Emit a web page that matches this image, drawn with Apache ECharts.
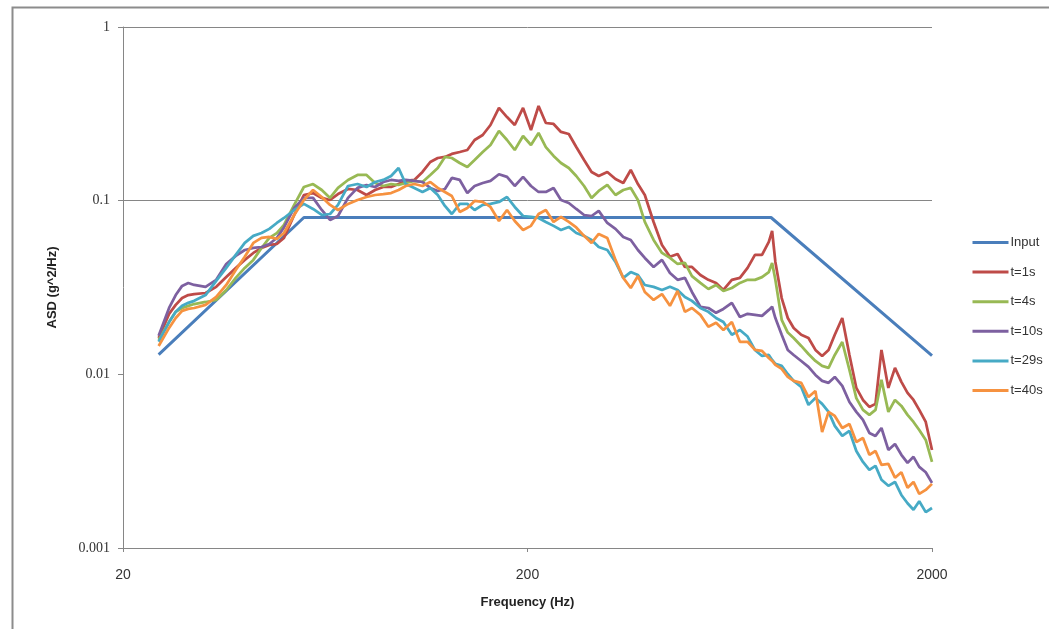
<!DOCTYPE html>
<html>
<head>
<meta charset="utf-8">
<script src="https://cdn.jsdelivr.net/npm/echarts@6/dist/echarts.min.js"></script>
<style>
html,body{margin:0;padding:0;background:#fff;}
#chart{width:1049px;height:629px;}
</style>
</head>
<body>
<div id="chart"></div>
<script>
// Frequencies (Hz) shared by the measured series
const freqs = [24.5,26,27,28,29,30,32,34,36,38,40,42,44,46,48,50,53,56,59,62,65,68,72,76,80,84,88,92,96,100,105,110,115,120,125,130,136,142,148,155,162,170,178,186,195,204,213,222,232,242,253,264,276,288,300,315,330,345,360,375,390,410,430,450,470,490,510,535,560,585,610,640,670,700,730,760,790,805,820,850,880,910,950,990,1030,1070,1110,1150,1200,1250,1300,1350,1400,1450,1500,1560,1620,1680,1740,1800,1860,1930,2000];

// Input profile (breakpoints)
const inputFreq = [24.5, 56, 800, 2000];
const inputASD  = [0.013, 0.08, 0.08, 0.0128];

const t1s = [.0162,.0223,.0251,.0275,.0286,.0290,.0294,.0319,.0363,.0410,.0456,.0500,.0534,.0556,.0563,.0610,.0827,.1078,.1106,.1037,.1009,.1092,.1168,.1152,.1078,.1152,.1199,.1199,.1247,.1299,.1316,.1463,.1670,.1761,.1785,.1858,.1907,.1957,.2236,.2388,.2727,.342,.303,.2727,.342,.2553,.351,.2800,.2764,.2487,.2420,.2036,.1715,.1463,.1387,.1463,.1333,.1264,.1502,.1247,.1078,.0754,.0556,.0475,.0493,.0415,.0415,.0373,.0350,.0336,.0306,.0350,.0359,.0410,.0487,.0487,.0579,.0669,.0444,.0275,.0211,.0185,.0169,.0162,.01382,.01276,.01382,.0169,.0211,.01293,.00835,.00712,.00649,.00676,.01382,.00835,.01090,.00905,.00782,.00712,.00624,.00532,.00367];

const t4s = [.0158,.0200,.0229,.0241,.0248,.0254,.0261,.0268,.0306,.0359,.0410,.0456,.0534,.0610,.0651,.0725,.0945,.1199,.1247,.1152,.1037,.1184,.1316,.1406,.1406,.1264,.1215,.1247,.1231,.1264,.1299,.1281,.1406,.1542,.1785,.1761,.1648,.1563,.1715,.1907,.2092,.2520,.2236,.1957,.2357,.2092,.2453,.2036,.1809,.1648,.1542,.1387,.1215,.1037,.1137,.1231,.1078,.1152,.1184,.1009,.0754,.0594,.0500,.0468,.0432,.0438,.0368,.0336,.0310,.0327,.0302,.0314,.0336,.0350,.0350,.0363,.0388,.0438,.0350,.0206,.0174,.0162,.01457,.01310,.01194,.01118,.01090,.01293,.01535,.0106,.00730,.00624,.00584,.00624,.00929,.00608,.00712,.00658,.00584,.00532,.00478,.00419,.00313];

const t10s = [.0167,.0241,.0286,.0323,.0336,.0327,.0319,.0350,.0432,.0481,.0520,.0534,.0541,.0563,.0610,.0701,.0908,.1037,.1037,.0884,.0774,.0816,.1037,.1184,.1231,.1199,.1281,.1316,.1299,.1316,.1299,.1281,.1184,.1137,.1168,.1352,.1316,.1106,.1215,.1264,.1299,.142,.1370,.1215,.1370,.1215,.1122,.1122,.1184,.1009,.0970,.0896,.0827,.0816,.0873,.0744,.0688,.0618,.0594,.0520,.0468,.0415,.0456,.0383,.0350,.0359,.0298,.0245,.0241,.0226,.0238,.0258,.0214,.0223,.0220,.0217,.0235,.0245,.0211,.0169,.01382,.01293,.01194,.01104,.00992,.00917,.00893,.00966,.00858,.00693,.00608,.00546,.00460,.00442,.00491,.00367,.00397,.00344,.00309,.00335,.00293,.00273,.00237];

const t29s = [.0154,.0200,.0229,.0248,.0258,.0265,.0286,.0345,.0410,.0487,.0571,.0627,.0651,.0688,.0744,.0795,.0884,.0958,.0896,.0827,.0838,.0945,.1215,.1247,.1199,.1281,.1316,.1387,.1542,.1247,.1184,.1122,.1184,.1078,.0933,.0838,.0958,.0958,.0884,.0945,.0958,.0983,.1050,.0920,.0816,.0806,.0795,.0754,.0716,.0678,.0706,.0651,.0627,.0594,.0541,.0520,.0444,.0359,.0388,.0373,.0327,.0319,.0306,.0319,.0306,.0279,.0265,.0241,.0229,.0211,.0200,.0169,.0180,.0165,.01382,.01276,.01293,.0121,.01148,.01118,.01005,.00917,.00846,.00667,.00730,.00676,.00608,.00505,.00442,.00472,.00362,.00313,.00282,.00297,.00247,.00228,.00240,.00202,.00181,.00166,.00186,.00161,.00170];

const t40s = [.01457,.0185,.0211,.0232,.0238,.0241,.0251,.0279,.0327,.0399,.0475,.0571,.0610,.0618,.0602,.0651,.0827,.1009,.1152,.1050,.0945,.0884,.0958,.1009,.1050,.1078,.1092,.1106,.1152,.1215,.1247,.1215,.1281,.1184,.1122,.1064,.0861,.0908,.0996,.0983,.0920,.0764,.0884,.0764,.0678,.0716,.0838,.0884,.0754,.0806,.0754,.0701,.0627,.0571,.0643,.0610,.0456,.0359,.0314,.0368,.0298,.0268,.0290,.0248,.0302,.0229,.0241,.0220,.0188,.0198,.0180,.0200,.0154,.0154,.01382,.01364,.01243,.01194,.01133,.01075,.00966,.00917,.00893,.00740,.00802,.00465,.00608,.00576,.00491,.00518,.00408,.00430,.00344,.00362,.00301,.00305,.00254,.00273,.00222,.00240,.00205,.00216,.00234];

const seriesNames = ['Input','t=1s','t=4s','t=10s','t=29s','t=40s'];
const seriesColors = ['#4A7EBB','#BE4B48','#98B954','#7D60A0','#46AAC5','#F69240'];
const xTicks = [20, 200, 2000];
const yGridValues = [0.1, 1];

const zip = (xs, ys) => xs.map((x, i) => [x, ys[i]]);
const measured = [t1s, t4s, t10s, t29s, t40s];

const gray = '#868686';
const condensed = "'Liberation Sans Narrow','Liberation Sans',Arial,sans-serif";

const series = [{
  name: seriesNames[0], type: 'line', data: zip(inputFreq, inputASD),
  symbol: 'none', lineStyle: {width: 3, color: seriesColors[0]}, itemStyle: {color: seriesColors[0]},
  silent: true, z: 2,
  markLine: {
    silent: true, symbol: ['none','none'], z: 1,
    label: {show: false},
    lineStyle: {color: gray, type: 'solid', width: 1},
    data: yGridValues.map(v => ({yAxis: v}))
  }
}];
measured.forEach((arr, i) => {
  series.push({
    name: seriesNames[i+1], type: 'line', data: zip(freqs, arr),
    symbol: 'none', lineStyle: {width: 2.75, color: seriesColors[i+1]},
    itemStyle: {color: seriesColors[i+1]}, silent: true, z: 2
  });
});

const chart = echarts.init(document.getElementById('chart'), null, {renderer: 'canvas'});
chart.setOption({
  animation: false,
  backgroundColor: '#ffffff',
  graphic: [{
    type: 'rect', left: 10, top: 5, z: -10, silent: true,
    shape: {width: 1200, height: 800},
    style: {fill: 'none', stroke: '#8c8c8c', lineWidth: 2}
  }],
  grid: {left: 123, right: 117, top: 27, bottom: 81, containLabel: false},
  legend: {
    orient: 'vertical', left: 966, top: 231,
    itemWidth: 36, itemHeight: 14, itemGap: 16.6,
    data: seriesNames,
    itemStyle: {opacity: 0},
    lineStyle: {width: 3},
    textStyle: {fontSize: 13, color: '#333', fontFamily: condensed, padding: [0,0,0,-3]}
  },
  xAxis: {
    type: 'log', logBase: 10, min: 20, max: 2000,
    name: 'Frequency (Hz)', nameLocation: 'middle', nameGap: 48,
    nameTextStyle: {fontWeight: 'bold', fontSize: 13, color: '#222', fontFamily: condensed},
    axisLine: {show: true, lineStyle: {color: gray, width: 1}},
    axisTick: {show: true, customValues: xTicks, length: 4, lineStyle: {color: gray}},
    minorTick: {show: false},
    axisLabel: {customValues: xTicks, formatter: v => String(v), fontSize: 14, color: '#333', fontFamily: condensed, margin: 20},
    splitLine: {show: false}
  },
  yAxis: {
    type: 'log', logBase: 10, min: 0.001, max: 1,
    name: 'ASD (g^2/Hz)', nameLocation: 'middle', nameGap: 64, nameRotate: 90,
    nameTextStyle: {fontWeight: 'bold', fontSize: 13, color: '#222', fontFamily: condensed},
    axisLine: {show: true, lineStyle: {color: gray, width: 1}},
    axisTick: {show: true, length: 5, lineStyle: {color: gray}},
    axisLabel: {formatter: v => String(+Number(v).toPrecision(2)), fontSize: 14, color: '#333', fontFamily: "'Liberation Serif','DejaVu Serif',serif", margin: 13},
    splitLine: {show: false}
  },
  series: series
});
</script>
</body>
</html>
